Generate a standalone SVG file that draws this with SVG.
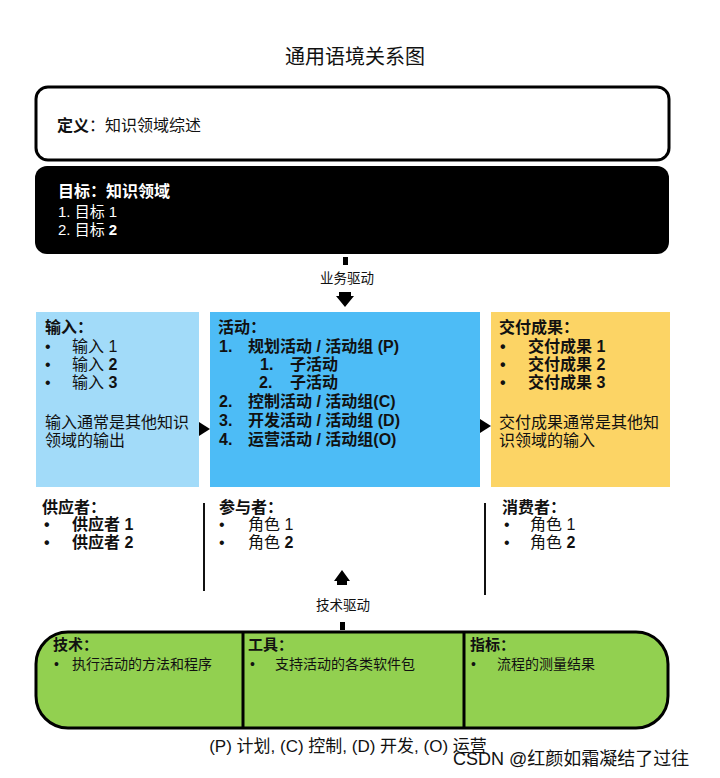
<svg xmlns="http://www.w3.org/2000/svg" width="720" height="778" viewBox="0 0 720 778">
<style>
text{font-family:"Liberation Sans","Noto Sans CJK SC",sans-serif;fill:#111}
.b{font-weight:bold}
.t16{font-size:16px}
.t15{font-size:15px}
.t14{font-size:14px}
.t13{font-size:13.5px}
.w{fill:#fff}
.vl{stroke:#111;stroke-width:2}
</style>
<rect width="720" height="778" fill="#fff"/>
<text x="355" y="64" font-size="20" text-anchor="middle" fill="#222">通用语境关系图</text>

<g id="definition">
<rect x="36" y="87" width="633" height="73" rx="12" fill="#fff" stroke="#000" stroke-width="3"/>
<text x="57" y="131" class="t16"><tspan class="b">定义</tspan>：知识领域综述</text>
</g>

<g id="goals">
<rect x="35" y="166" width="634" height="88" rx="12" fill="#000"/>
<text x="58" y="197" class="t16 b w">目标：知识领域</text>
<text x="58" y="217" class="t15 w">1.  目标 1</text>
<text x="58" y="235" class="t15 w">2.  目标 <tspan class="b">2</tspan></text>
</g>

<g id="inputs">
<rect x="36" y="312" width="163" height="175" fill="#a2dbf9"/>
<text x="45" y="333" class="t16 b">输入：</text>
<text class="t16"><tspan x="45" y="352">•</tspan><tspan x="72" y="352">输入 1</tspan><tspan x="45" y="370">•</tspan><tspan x="72" y="370">输入 <tspan class="b">2</tspan></tspan><tspan x="45" y="388">•</tspan><tspan x="72" y="388">输入 <tspan class="b">3</tspan></tspan></text>
<text x="45" y="428" class="t16" fill="#333">输入通常是其他知识</text>
<text x="45" y="446" class="t16" fill="#333">领域的输出</text>
</g>

<g id="activities">
<rect x="210" y="312" width="270" height="175" fill="#4dbcf6"/>
<text x="218" y="333" class="t16 b">活动：</text>
<text class="t16 b">
<tspan x="219" y="352">1.</tspan><tspan x="248" y="352">规划活动 / 活动组 (P)</tspan>
<tspan x="260" y="370">1.</tspan><tspan x="290" y="370">子活动</tspan>
<tspan x="259" y="388">2.</tspan><tspan x="290" y="388">子活动</tspan>
<tspan x="219" y="407">2.</tspan><tspan x="248" y="407">控制活动 / 活动组(C)</tspan>
<tspan x="219" y="426">3.</tspan><tspan x="248" y="426">开发活动 / 活动组 (D)</tspan>
<tspan x="219" y="445">4.</tspan><tspan x="248" y="445">运营活动 / 活动组(O)</tspan>
</text>
</g>

<g id="deliverables">
<rect x="491" y="312" width="179" height="175" fill="#fcd465"/>
<text x="499" y="333" class="t16 b">交付成果：</text>
<text class="t16 b"><tspan x="500" y="352">•</tspan><tspan x="528" y="352">交付成果 1</tspan><tspan x="500" y="370">•</tspan><tspan x="528" y="370">交付成果 2</tspan><tspan x="500" y="388">•</tspan><tspan x="528" y="388">交付成果 3</tspan></text>
<text x="499" y="428" class="t16" fill="#333">交付成果通常是其他知</text>
<text x="499" y="446" class="t16" fill="#333">识领域的输入</text>
</g>

<g id="suppliers">
<text x="42" y="513" class="t16 b">供应者：</text>
<text class="t16 b"><tspan x="44" y="530">•</tspan><tspan x="72" y="530">供应者 1</tspan><tspan x="44" y="548">•</tspan><tspan x="72" y="548">供应者 2</tspan></text>
</g>

<g id="participants">
<text x="219" y="513" class="t16 b">参与者：</text>
<text class="t16"><tspan x="219" y="530">•</tspan><tspan x="248" y="530">角色 1</tspan><tspan x="219" y="548">•</tspan><tspan x="248" y="548">角色 <tspan class="b">2</tspan></tspan></text>
</g>

<g id="consumers">
<text x="502" y="513" class="t16 b">消费者：</text>
<text class="t16"><tspan x="504" y="530">•</tspan><tspan x="530" y="530">角色 1</tspan><tspan x="504" y="548">•</tspan><tspan x="530" y="548">角色 <tspan class="b">2</tspan></tspan></text>
</g>

<g id="enablers">
<rect x="36" y="632" width="632" height="96" rx="32" fill="#92d050" stroke="#000" stroke-width="3"/>
<line x1="243" y1="633" x2="243" y2="727" stroke="#000" stroke-width="3"/>
<line x1="464" y1="633" x2="464" y2="727" stroke="#000" stroke-width="3"/>
<text x="53" y="650" class="t15 b">技术：</text>
<text class="t14"><tspan x="54" y="669">•</tspan><tspan x="72" y="669">执行活动的方法和程序</tspan></text>
<text x="248" y="650" class="t15 b">工具：</text>
<text class="t14"><tspan x="250" y="669">•</tspan><tspan x="275" y="669">支持活动的各类软件包</tspan></text>
<text x="470" y="650" class="t15 b">指标：</text>
<text class="t14"><tspan x="471" y="669">•</tspan><tspan x="497" y="669">流程的测量结果</tspan></text>
</g>

<g id="connectors">
<rect x="343" y="257" width="5" height="8" fill="#000"/>
<text x="347" y="283" class="t13" text-anchor="middle" fill="#333">业务驱动</text>
<path d="M339,292h12v4h3l-9,11l-9,-11h3z" fill="#000"/>
<path d="M199,422l11,7l-11,7z" fill="#000"/>
<path d="M480,419l11,7l-11,7z" fill="#000"/>
<line x1="204" y1="503" x2="204" y2="591" class="vl"/>
<line x1="485" y1="503" x2="485" y2="595" class="vl"/>
<path d="M342,570l-8,11h3v4h10v-4h3z" fill="#000"/>
<text x="343" y="610" class="t13" text-anchor="middle" fill="#333">技术驱动</text>
<rect x="340" y="622" width="5" height="8" fill="#000"/>
</g>

<text x="348" y="752" font-size="17" text-anchor="middle" fill="#111">(P) 计划, (C) 控制, (D) 开发, (O) 运营</text>
<text x="453" y="765" font-size="18" fill="#999">CSDN @红颜如霜凝结了过往</text>
</svg>
